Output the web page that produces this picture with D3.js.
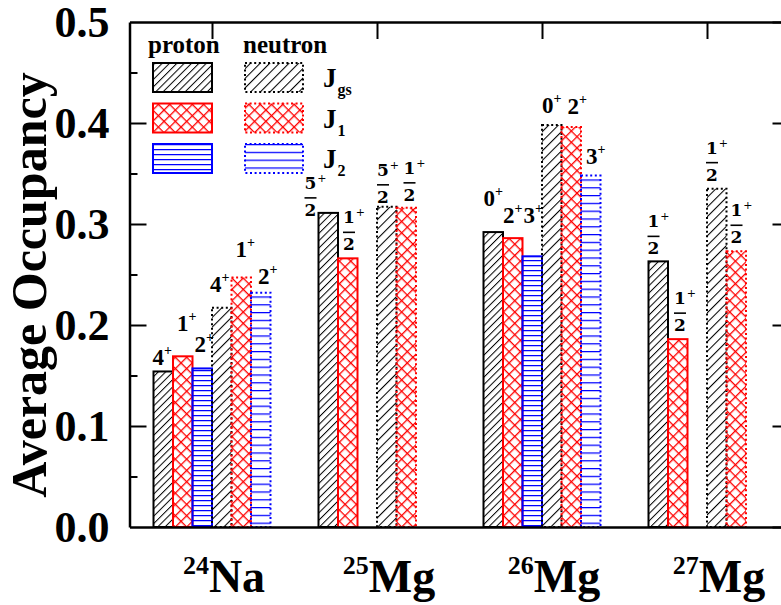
<!DOCTYPE html>
<html>
<head>
<meta charset="utf-8">
<script src="https://cdn.jsdelivr.net/npm/d3@7"></script>
<style>
  body { margin: 0; background: #fff; }
  svg text { font-family: "Liberation Serif", "Times New Roman", serif; font-weight: bold; fill: #000; }
  svg .frac { font-family: "DejaVu Serif", serif; }
</style>
</head>
<body>
<svg id="chart"></svg>
<script>
// nuclei on the x axis
var massNumbers = ['24', '25', '26', '27'];
var elements = ['Na', 'Mg', 'Mg', 'Mg'];
var states = ['Jgs', 'J1', 'J2'];

// average occupancy, one row per nucleus: [Jgs, J1, J2]
var protonOcc = [
  [0.154, 0.169, 0.157],
  [0.311, 0.266, null],
  [0.292, 0.286, 0.268],
  [0.263, 0.186, null]
];
var neutronOcc = [
  [0.217, 0.247, 0.232],
  [0.317, 0.316, null],
  [0.398, 0.396, 0.348],
  [0.335, 0.273, null]
];

// spin labels (all positive parity)
var protonSpin = [['4', '1', '2'], ['5/2', '1/2', null], ['0', '2', '3'], ['1/2', '1/2', null]];
var neutronSpin = [['4', '1', '2'], ['5/2', '1/2', null], ['0', '2', '3'], ['1/2', '1/2', null]];

var yTicks = [0, 0.1, 0.2, 0.3, 0.4, 0.5];
var yMinorTicks = [0.05, 0.15, 0.25, 0.35, 0.45];

// label nudges [dx from bar left, gap above bar top] -- layout only
var protonLabelShift = [[[-1, 6], [4, 25], [2, 16]], [[-14, 15], [5, 26], null], [[0, 26], [0, 15], [1, 33]], [[-1, 25], [6, 26], null]];
var neutronLabelShift = [[[-2, 16], [4, 21], [7, 9]], [[0, 22], [7, 25], null], [[0, 12], [6, 13], [5, 12]], [[-1, 26], [4, 26], null]];

(function() {
  var W = 781, H = 605;
  var svg = d3.select('#chart').attr('width', W).attr('height', H);
  var colors = ['#000', '#f00', '#00f'];

  var x = d3.scaleLinear().domain([0.5, 4.5]).range([129.5, 789.5]);
  var slot = d3.scaleBand().domain(d3.range(6)).range([-58.5, 58.5]);
  var y = d3.scaleLinear().domain([0, 0.5]).range([527, 22]);

  // patterns
  var defs = svg.append('defs');
  function hatch(id, color, gap, angle, sw, cross) {
    var p = defs.append('pattern').attr('id', id)
      .attr('patternUnits', 'userSpaceOnUse')
      .attr('width', gap).attr('height', gap)
      .attr('patternTransform', 'rotate(' + angle + ')');
    p.append('line').attr('x1', 0).attr('y1', -1).attr('x2', 0).attr('y2', gap + 1)
      .attr('stroke', color).attr('stroke-width', sw);
    if (cross) {
      p.append('line').attr('x1', -1).attr('y1', 0).attr('x2', gap + 1).attr('y2', 0)
        .attr('stroke', color).attr('stroke-width', sw);
    }
  }
  hatch('p0', '#000', 5.2, 45, 2, false);
  hatch('n0', '#000', 6.8, 45, 2.1, false);
  hatch('p1', '#f00', 8, 45, 2.6, true);
  hatch('n1', '#f00', 8, 45, 2.6, true);
  hatch('p2', '#00f', 5, 90, 2.5, false);
  hatch('n2', '#00f', 7.8, 90, 2.5, false);

  // flatten bars
  var bars = [];
  massNumbers.forEach(function(m, i) {
    [protonOcc, neutronOcc].forEach(function(occ, s) {
      var spins = s === 0 ? protonSpin : neutronSpin;
      var shifts = s === 0 ? protonLabelShift : neutronLabelShift;
      states.forEach(function(st, j) {
        if (occ[i][j] == null) return;
        bars.push({ nuc: i, side: s, state: j, value: occ[i][j], spin: spins[i][j], shift: shifts[i][j] });
      });
    });
  });

  var g = svg.append('g');
  g.selectAll('.bar')
    .data(bars)
    .enter()
    .append('rect')
    .attr('class', 'bar')
    .attr('x', function(d) { return x(d.nuc + 1) + slot(d.side * 3 + d.state); })
    .attr('y', function(d) { return y(d.value); })
    .attr('width', slot.bandwidth())
    .attr('height', function(d) { return y(0) - y(d.value); })
    .attr('fill', function(d) { return 'url(#' + (d.side ? 'n' : 'p') + d.state + ')'; })
    .attr('stroke', function(d) { return colors[d.state]; })
    .attr('stroke-width', 2)
    .attr('stroke-dasharray', function(d) { return d.side ? '2,2.6' : null; });

  // spin labels
  var labels = g.selectAll('.spin')
    .data(bars)
    .enter()
    .append('g')
    .attr('class', 'spin')
    .attr('transform', function(d) {
      var bx = x(d.nuc + 1) + slot(d.side * 3 + d.state);
      return 'translate(' + (bx + d.shift[0]) + ',' + (y(d.value) - d.shift[1]) + ')';
    });
  labels.each(function(d) {
    var el = d3.select(this);
    var parts = d.spin.split('/');
    if (parts.length === 1) {
      var t = el.append('text').attr('font-size', 23);
      t.append('tspan').text(parts[0]);
      t.append('tspan').attr('font-size', 14).attr('dx', 0).attr('dy', -10).text('+');
    } else {
      var num = el.append('text').attr('class', 'frac').attr('y', -9).attr('font-size', 17);
      num.append('tspan').text(parts[0]);
      num.append('tspan').attr('font-size', 11).attr('dx', 1).attr('dy', -7).attr('font-weight', 'normal').text('+');
      el.append('line').attr('x1', 0).attr('x2', 12).attr('y1', 0).attr('y2', 0)
        .attr('stroke', '#000').attr('stroke-width', 1.6);
      el.append('text').attr('class', 'frac').attr('y', 18).attr('font-size', 17).text(parts[1]);
    }
  });

  // axes (frame)
  function styleAxis(sel) {
    sel.select('.domain').attr('stroke', '#000').attr('stroke-width', 2.5);
    sel.selectAll('.tick line').attr('stroke', '#000').attr('stroke-width', 2);
  }
  var left = svg.append('g').attr('transform', 'translate(' + x(0.5) + ',0)')
    .call(d3.axisLeft(y).tickValues(yTicks).tickSize(-17).tickSizeOuter(0).tickPadding(20)
      .tickFormat(d3.format('.1f')));
  styleAxis(left);
  left.selectAll('.tick text').attr('font-size', 44).attr('dy', '0.34em')
    .attr('font-family', '"Liberation Serif", serif').attr('font-weight', 'bold');
  left.selectAll('.tick').filter(function(d) { return d === 0 || d === 0.5; }).select('line').remove();
  svg.append('g').attr('transform', 'translate(' + x(0.5) + ',0)')
    .call(d3.axisLeft(y).tickValues(yMinorTicks).tickSize(-8).tickFormat(''))
    .call(function(s) { s.select('.domain').remove(); s.selectAll('line').attr('stroke', '#000').attr('stroke-width', 2); });

  var right = svg.append('g').attr('transform', 'translate(' + x(4.5) + ',0)')
    .call(d3.axisRight(y).tickValues(yTicks).tickSize(-17).tickSizeOuter(0).tickFormat(''));
  styleAxis(right);
  svg.append('g').attr('transform', 'translate(' + x(4.5) + ',0)')
    .call(d3.axisRight(y).tickValues(yMinorTicks).tickSize(-8).tickFormat(''))
    .call(function(s) { s.select('.domain').remove(); s.selectAll('line').attr('stroke', '#000').attr('stroke-width', 2); });

  var top = svg.append('g').attr('transform', 'translate(0,' + y(0.5) + ')')
    .call(d3.axisTop(x).tickValues([1, 2, 3, 4]).tickSize(-17).tickSizeOuter(0).tickFormat(''));
  styleAxis(top);
  var bottom = svg.append('g').attr('transform', 'translate(0,' + y(0) + ')')
    .call(d3.axisBottom(x).tickValues([]).tickSizeOuter(0));
  styleAxis(bottom);

  // x labels (a little right of the group centre, as in the figure)
  var xl = svg.selectAll('.xlab')
    .data(massNumbers)
    .enter()
    .append('text')
    .attr('class', 'xlab')
    .attr('x', function(d, i) { return x(i + 1) + 12; })
    .attr('y', 592)
    .attr('text-anchor', 'middle');
  xl.append('tspan').attr('font-size', 26).attr('dy', -18).text(function(d) { return d; });
  xl.append('tspan').attr('font-size', 46).attr('dy', 18).text(function(d, i) { return elements[i]; });

  // y title
  svg.append('text')
    .attr('transform', 'translate(46,285) rotate(-90)')
    .attr('text-anchor', 'middle')
    .attr('font-size', 50)
    .text('Average Occupancy');

  // legend
  var leg = svg.append('g');
  leg.append('text').attr('x', 148).attr('y', 53).attr('font-size', 25).text('proton');
  leg.append('text').attr('x', 243).attr('y', 53).attr('font-size', 25).text('neutron');
  var legRows = leg.selectAll('.row').data(states).enter().append('g')
    .attr('transform', function(d, i) { return 'translate(0,' + (63 + i * 40.5) + ')'; });
  legRows.append('rect').attr('x', 153).attr('width', 59).attr('height', 29)
    .attr('fill', function(d, i) { return 'url(#p' + i + ')'; })
    .attr('stroke', function(d, i) { return colors[i]; }).attr('stroke-width', 2);
  legRows.append('rect').attr('x', 245).attr('width', 58).attr('height', 29)
    .attr('fill', function(d, i) { return 'url(#n' + i + ')'; })
    .attr('stroke', function(d, i) { return colors[i]; }).attr('stroke-width', 2)
    .attr('stroke-dasharray', '2,2.6');
  var lt = legRows.append('text').attr('x', 323).attr('y', 24).attr('font-size', 27);
  lt.append('tspan').text('J');
  lt.append('tspan').attr('font-size', 16).attr('dy', 8).attr('dx', 1)
    .text(function(d) { return d.slice(1); });
})();
</script>
</body>
</html>
